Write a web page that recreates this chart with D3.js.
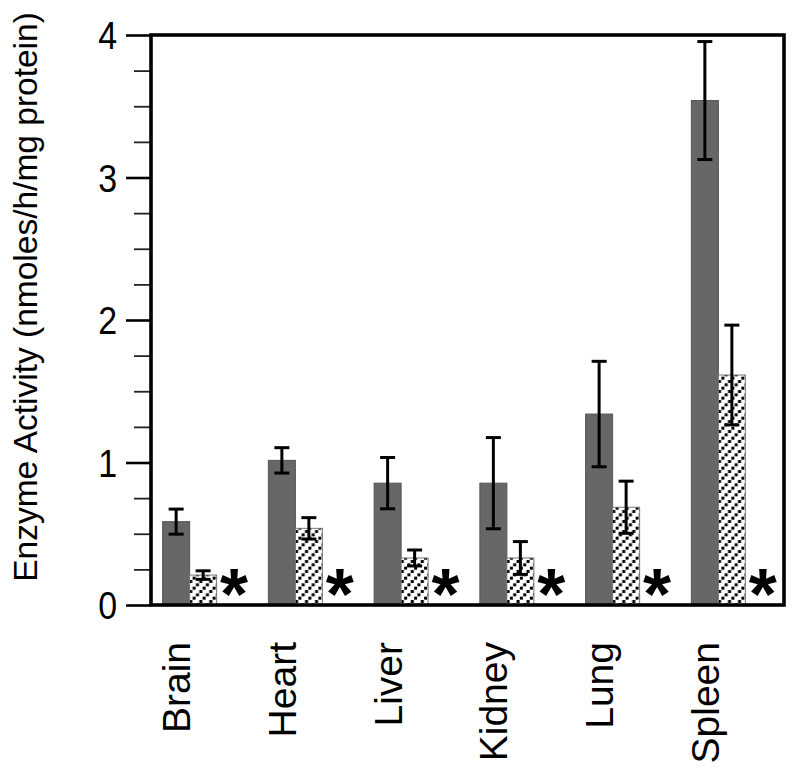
<!DOCTYPE html>
<html>
<head>
<meta charset="utf-8">
<script src="https://cdn.jsdelivr.net/npm/d3@7"></script>
<style>
  body { margin: 0; background: #fff; }
  svg text { font-family: "Liberation Sans", Arial, Helvetica, sans-serif; fill: #000; }
</style>
</head>
<body>
<svg id="chart" width="800" height="775"></svg>
<script>
// data
const tissues = ["Brain", "Heart", "Liver", "Kidney", "Lung", "Spleen"];
const groups = ["wildtype", "heterozygous", "knockout"];
const wildtypeMean = [0.585, 1.015, 0.855, 0.855, 1.34, 3.54];
const wildtypeErr = [0.088, 0.089, 0.18, 0.32, 0.37, 0.414];
const heteroMean = [0.21, 0.538, 0.33, 0.33, 0.686, 1.614];
const heteroErr = [0.03, 0.075, 0.056, 0.115, 0.183, 0.35];
const knockoutMean = [0, 0, 0, 0, 0, 0]; // not detected -> "*"
const yMajorTicks = [0, 1, 2, 3, 4];
const yMinorTicks = [0.25, 0.5, 0.75, 1.25, 1.5, 1.75, 2.25, 2.5, 2.75, 3.25, 3.5, 3.75];
const yLabel = "Enzyme Activity (nmoles/h/mg protein)";

const squeeze = 0.87; // numbers on the y axis are a bit narrow

const frame = { left: 151, right: 784, top: 35, bottom: 605 };

const svg = d3.select("#chart");

// hatch pattern: diagonal lines made of small squares
const defs = svg.append("defs");
const hatch = defs.append("pattern")
  .attr("id", "hatch")
  .attr("patternUnits", "userSpaceOnUse")
  .attr("width", 10)
  .attr("height", 10);
hatch.append("rect").attr("width", 10).attr("height", 10).attr("fill", "#fff");
[[0, 6.67], [3.33, 3.33], [6.67, 0]].forEach(([px, py]) => {
  hatch.append("rect")
    .attr("x", px).attr("y", py)
    .attr("width", 3).attr("height", 3)
    .attr("fill", "#000");
});

// scales
const yScale = d3.scaleLinear().domain([0, 4]).range([frame.bottom, frame.top]);

const xScale = d3.scaleBand()
  .domain(tissues)
  .range([frame.left, frame.right])
  .paddingInner(0.234)
  .paddingOuter(0.11);

const xSub = d3.scaleBand()
  .domain(groups)
  .range([0, xScale.bandwidth()]);

const rows = tissues.map((t, i) => ({
  tissue: t,
  values: [
    { group: "wildtype", mean: wildtypeMean[i], err: wildtypeErr[i] },
    { group: "heterozygous", mean: heteroMean[i], err: heteroErr[i] },
    { group: "knockout", mean: knockoutMean[i], err: 0 },
  ],
}));

// bars
const groupG = svg.append("g")
  .selectAll("g")
  .data(rows)
  .join("g")
  .attr("transform", (d) => `translate(${xScale(d.tissue)},0)`);

groupG.selectAll("rect.bar")
  .data((d) => d.values.filter((v) => v.group !== "knockout"))
  .join("rect")
  .attr("class", "bar")
  .attr("x", (d) => xSub(d.group))
  .attr("y", (d) => yScale(d.mean))
  .attr("width", xSub.bandwidth())
  .attr("height", (d) => yScale(0) - yScale(d.mean))
  .attr("fill", (d) => (d.group === "wildtype" ? "#676767" : "url(#hatch)"))
  .attr("stroke", (d) => (d.group === "wildtype" ? "#555" : "#777"))
  .attr("stroke-width", 1);

// error bars
const errG = groupG.selectAll("g.err")
  .data((d) => d.values.filter((v) => v.group !== "knockout"))
  .join("g")
  .attr("class", "err")
  .attr("transform", (d) => `translate(${xSub(d.group) + xSub.bandwidth() / 2},0)`);

errG.append("line")
  .attr("y1", (d) => yScale(d.mean + d.err))
  .attr("y2", (d) => yScale(d.mean - d.err))
  .attr("stroke", "#000")
  .attr("stroke-width", 3);

errG.selectAll("line.cap")
  .data((d) => [d.mean + d.err, d.mean - d.err])
  .join("line")
  .attr("class", "cap")
  .attr("x1", -7.5)
  .attr("x2", 7.5)
  .attr("y1", (v) => yScale(v))
  .attr("y2", (v) => yScale(v))
  .attr("stroke", "#000")
  .attr("stroke-width", 3);

// knockout: not detected
groupG.selectAll("text.nd")
  .data((d) => d.values.filter((v) => v.group === "knockout"))
  .join("text")
  .attr("class", "nd")
  .attr("x", (d) => xSub(d.group) + xSub.bandwidth() / 2 + 4)
  .attr("y", (d) => yScale(d.mean) + 14)
  .attr("text-anchor", "middle")
  .style("font-size", "72px")
  .style("font-weight", "bold")
  .text("*");

// y axis ticks
const minorAxis = d3.axisLeft(yScale).tickValues(yMinorTicks).tickSize(17).tickFormat("");
svg.append("g")
  .attr("transform", `translate(${frame.left},0)`)
  .call(minorAxis)
  .call((g) => g.select(".domain").remove())
  .call((g) => g.selectAll("line").attr("stroke", "#222").attr("stroke-width", 1.8));

const majorAxis = d3.axisLeft(yScale).tickValues(yMajorTicks).tickSize(25).tickPadding(9).tickFormat(d3.format("d"));
svg.append("g")
  .attr("transform", `translate(${frame.left},0)`)
  .call(majorAxis)
  .call((g) => g.select(".domain").remove())
  .call((g) => g.selectAll("line").attr("stroke", "#000").attr("stroke-width", 2.6))
  .call((g) => g.selectAll("text")
    .attr("x", null)
    .attr("dy", "0.35em")
    .attr("transform", `translate(-34,0) scale(${squeeze},1)`)
    .attr("font-family", null)
    .style("font-size", "39px")
    .attr("fill", "#000"));

// frame
svg.append("rect")
  .attr("x", frame.left)
  .attr("y", frame.top)
  .attr("width", frame.right - frame.left)
  .attr("height", frame.bottom - frame.top)
  .attr("fill", "none")
  .attr("stroke", "#000")
  .attr("stroke-width", 3.6);

// category labels (rotated), centred on the first bar of each group
svg.append("g")
  .selectAll("text")
  .data(tissues)
  .join("text")
  .attr("transform", (d) =>
    `translate(${xScale(d) + xSub("wildtype") + xSub.bandwidth() / 2 + 14},642) rotate(-90)`)
  .attr("text-anchor", "end")
  .style("font-size", "39px")
  .text((d) => d);

// y axis title
svg.append("text")
  .attr("transform", "translate(37,297) rotate(-90)")
  .attr("text-anchor", "middle")
  .style("font-size", "33.5px")
  .text(yLabel);
</script>
</body>
</html>
